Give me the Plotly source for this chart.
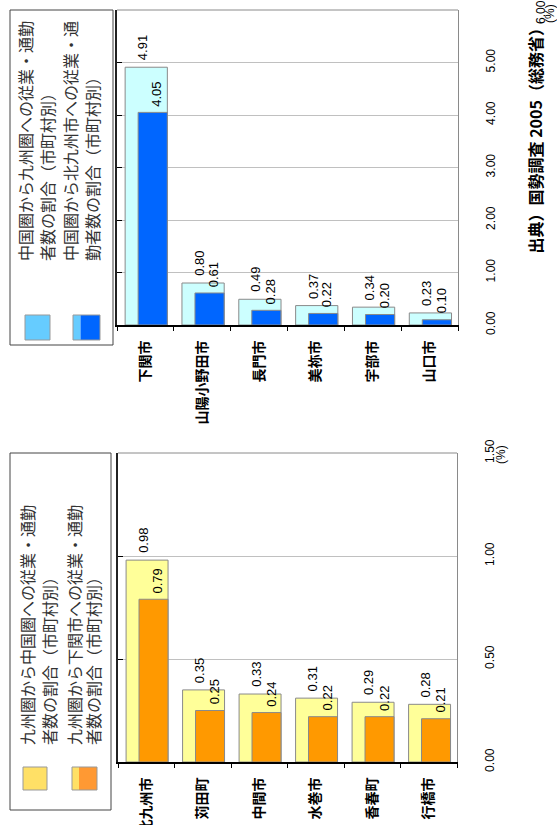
import plotly.graph_objects as go

# ---------------- data ----------------
cats_upper = ["下関市", "山陽小野田市", "長門市", "美祢市", "宇部市", "山口市"]
up_total = [4.91, 0.80, 0.49, 0.37, 0.34, 0.23]   # 中国圏から九州圏への従業・通勤者数の割合
up_kita = [4.05, 0.61, 0.28, 0.22, 0.20, 0.10]    # 中国圏から北九州市への従業・通勤者数の割合

cats_lower = ["北九州市", "苅田町", "中間市", "水巻市", "香春町", "行橋市"]
lo_total = [0.98, 0.35, 0.33, 0.31, 0.29, 0.28]   # 九州圏から中国圏への従業・通勤者数の割合
lo_shimo = [0.79, 0.25, 0.24, 0.22, 0.22, 0.21]   # 九州圏から下関市への従業・通勤者数の割合

up_ticks = [0, 1, 2, 3, 4, 5]
lo_ticks = [0, 0.5, 1.0, 1.5]

leg_upper = ["中国圏から九州圏への従業・通勤", "者数の割合（市町村別）",
             "中国圏から北九州市への従業・通", "勤者数の割合（市町村別）"]
leg_lower = ["九州圏から中国圏への従業・通勤", "者数の割合（市町村別）",
             "九州圏から下関市への従業・通勤", "者数の割合（市町村別）"]
source_text = "出典）国勢調査 2005（総務省）"

# ---------------- geometry helpers ----------------
W, H = 557, 825
def px(x):
    return x / W
def py(y):
    return 1 - y / H

JP = "Noto Sans CJK JP"
NUM = "Liberation Sans, Arial"

fig = go.Figure()
annotations = []
shapes = []

def add_panel(cats, total, part, light, dark, xa, ya):
    fig.add_trace(go.Bar(
        x=cats, y=total, xaxis=xa, yaxis=ya,
        width=0.743, offset=-0.357,
        marker=dict(color=light, line=dict(color="#8a8a8a", width=1)),
        showlegend=False, hoverinfo="skip"))
    fig.add_trace(go.Bar(
        x=cats, y=part, xaxis=xa, yaxis=ya,
        width=0.513, offset=-0.128,
        marker=dict(color=dark, line=dict(color="#8a8a8a", width=1)),
        showlegend=False, hoverinfo="skip"))
    for c, v in zip(cats, total):
        annotations.append(dict(xref=xa, yref=ya, x=c, y=v, xanchor="center", yanchor="bottom",
                                xshift=-3, yshift=5, textangle=-90, text=f"{v:.2f}",
                                showarrow=False, font=dict(family=NUM, size=13, color="black")))
    for c, v in zip(cats, part):
        annotations.append(dict(xref=xa, yref=ya, x=c, y=v, xanchor="center", yanchor="bottom",
                                xshift=11.5, yshift=4, textangle=-90, text=f"{v:.2f}",
                                showarrow=False, font=dict(family=NUM, size=13, color="black")))

add_panel(cats_upper, up_total, up_kita, "#CCFFFF", "#0066FF", "x", "y")
add_panel(cats_lower, lo_total, lo_shimo, "#FFFF99", "#FF9900", "x2", "y2")

up_dom_x = [px(117), px(458)]
up_dom_y = [py(325), py(10)]
lo_dom_x = [px(118), px(457)]
lo_dom_y = [py(762), py(453)]

xcommon = dict(type="category", ticks="outside", tickson="boundaries", ticklen=4,
               tickcolor="black", showline=True, linecolor="black", linewidth=2,
               tickangle=-90, tickfont=dict(family=JP, size=14, color="black", weight="bold"),
               ticklabelstandoff=8, range=[-0.5, 5.5], showgrid=False, fixedrange=True,
               automargin=False)
ycommon = dict(side="right", tickangle=-90, showgrid=True, gridcolor="#C0C0C0", gridwidth=1,
               showline=True, linecolor="#8a8a8a", linewidth=1, ticks="", zeroline=False,
               tickfont=dict(family=NUM, size=12, color="black"), ticklabelstandoff=22,
               fixedrange=True, automargin=False)
yleft = dict(side="left", ticks="inside", ticklen=5, tickcolor="black", showline=True,
             linecolor="#222222", linewidth=2, showticklabels=False, showgrid=False,
             zeroline=False, fixedrange=True, automargin=False)

fig.update_layout(
    width=W, height=H, margin=dict(l=0, r=0, t=0, b=0, autoexpand=False),
    paper_bgcolor="white", plot_bgcolor="white",
    barmode="overlay", showlegend=False,
    xaxis=dict(domain=up_dom_x, anchor="y", **xcommon),
    yaxis=dict(domain=up_dom_y, anchor="x", range=[0, 6], tickvals=up_ticks,
               ticktext=[f"{v:.2f}" for v in up_ticks], **ycommon),
    yaxis3=dict(overlaying="y", anchor="x", range=[0, 6], tickvals=up_ticks + [6], **yleft),
    xaxis2=dict(domain=lo_dom_x, anchor="y2", **xcommon),
    yaxis2=dict(domain=lo_dom_y, anchor="x2", range=[0, 1.5], tickvals=lo_ticks,
                ticktext=[f"{v:.2f}" for v in lo_ticks], **ycommon),
    yaxis4=dict(overlaying="y2", anchor="x2", range=[0, 1.5], tickvals=lo_ticks, **yleft),
)
# invisible traces to activate overlay axes
fig.add_trace(go.Scatter(x=[cats_upper[0]], y=[0], xaxis="x", yaxis="y3", mode="markers",
                         marker=dict(opacity=0), showlegend=False, hoverinfo="skip"))
fig.add_trace(go.Scatter(x=[cats_lower[0]], y=[0], xaxis="x2", yaxis="y4", mode="markers",
                         marker=dict(opacity=0), showlegend=False, hoverinfo="skip"))

# top frame lines
for xr, yr in (("x domain", "y domain"), ("x2 domain", "y2 domain")):
    shapes.append(dict(type="line", xref=xr, yref=yr, x0=0, x1=1, y0=1, y1=1,
                       line=dict(color="#8a8a8a", width=1)))

def legend(box, lines_x, text_bottom, texts, sw1, sw2, c1, c2a, c2b):
    x0, y0, x1, y1 = box
    shapes.append(dict(type="rect", xref="paper", yref="paper", x0=px(x0), x1=px(x1),
                       y0=py(y1), y1=py(y0), line=dict(color="#444444", width=1),
                       fillcolor="white", layer="below"))
    for cx, t in zip(lines_x, texts):
        annotations.append(dict(xref="paper", yref="paper", x=px(cx), y=py(text_bottom),
                                xanchor="center", yanchor="bottom", textangle=-90,
                                text=t, showarrow=False,
                                font=dict(family=JP, size=16, color="#333333")))
    sx0, sy0, sx1, sy1 = sw1
    shapes.append(dict(type="rect", xref="paper", yref="paper", x0=px(sx0), x1=px(sx1),
                       y0=py(sy1), y1=py(sy0), fillcolor=c1, line=dict(color="#999999", width=1)))
    sx0, sy0, sx1, sy1 = sw2
    split = sx0 + (sx1 - sx0) * 0.28
    shapes.append(dict(type="rect", xref="paper", yref="paper", x0=px(sx0), x1=px(split),
                       y0=py(sy1), y1=py(sy0), fillcolor=c2a, line=dict(width=0)))
    shapes.append(dict(type="rect", xref="paper", yref="paper", x0=px(split), x1=px(sx1),
                       y0=py(sy1), y1=py(sy0), fillcolor=c2b, line=dict(width=0)))
    shapes.append(dict(type="rect", xref="paper", yref="paper", x0=px(sx0), x1=px(sx1),
                       y0=py(sy1), y1=py(sy0), line=dict(color="#999999", width=1)))

legend((10, 10, 113, 345), [25, 47, 70, 92], 263, leg_upper,
       (25, 315, 50, 340), (73, 315, 100, 340), "#66CCFF", "#66CCFF", "#0066FF")
legend((10, 453, 111, 810), [27, 49, 74, 93], 747, leg_lower,
       (23, 767, 47, 790), (72, 767, 97, 790), "#FFE066", "#FFE066", "#FF9933")

# extra axis texts
annotations.append(dict(xref="paper", yref="paper", x=px(541), y=py(12), xanchor="center",
                        yanchor="middle", textangle=-90, text="6.00", showarrow=False,
                        font=dict(family=NUM, size=12, color="black")))
annotations.append(dict(xref="paper", yref="paper", x=px(550), y=py(14), xanchor="center",
                        yanchor="middle", textangle=-90, text="(%)", showarrow=False,
                        font=dict(family=NUM, size=12, color="black")))
annotations.append(dict(xref="paper", yref="paper", x=px(501), y=py(455), xanchor="center",
                        yanchor="middle", textangle=-90, text="(%)", showarrow=False,
                        font=dict(family=NUM, size=12, color="black")))
annotations.append(dict(xref="paper", yref="paper", x=px(534), y=py(256), xanchor="center",
                        yanchor="bottom", textangle=-90, text=source_text, showarrow=False,
                        font=dict(family=JP, size=16, color="black", weight="bold")))

fig.update_layout(shapes=shapes, annotations=annotations)
fig.write_html("out.html")
